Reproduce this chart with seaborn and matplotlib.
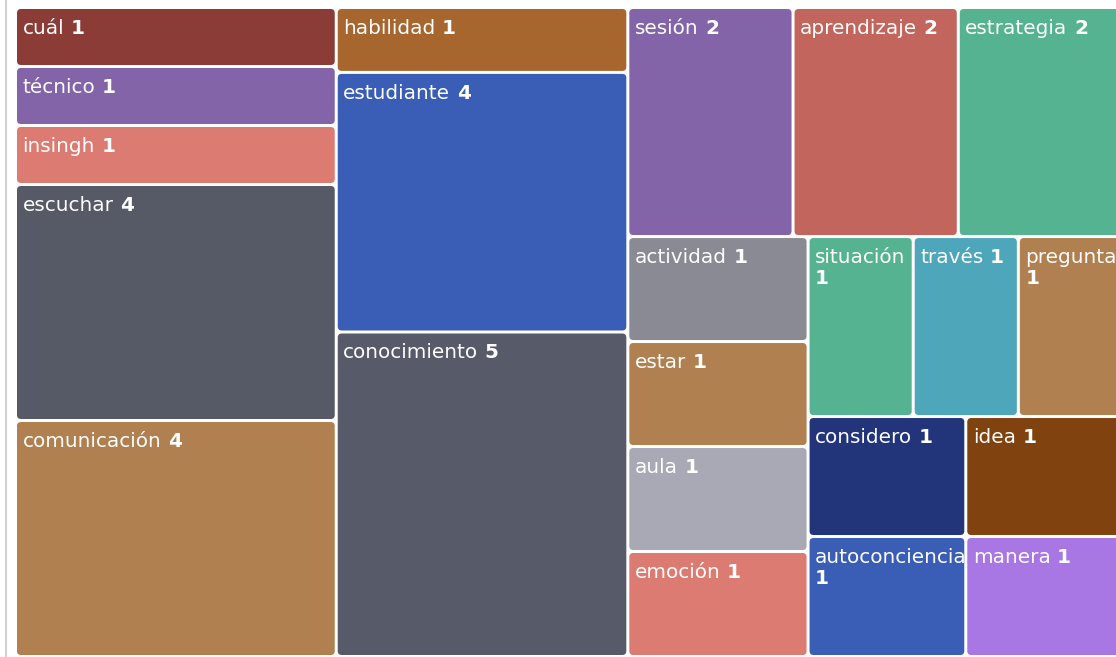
import matplotlib

matplotlib.use("Agg")
import matplotlib.pyplot as plt
import seaborn as sns
from matplotlib.patches import FancyBboxPatch

# word frequencies shown in the treemap, in drawing order
WORDS = [
    "cuál", "técnico", "insingh", "escuchar", "comunicación",
    "habilidad", "estudiante", "conocimiento",
    "sesión", "aprendizaje", "estrategia",
    "actividad", "estar", "aula", "emoción",
    "situación", "través", "pregunta",
    "considero", "autoconciencia", "idea", "manera",
]
COUNTS = [1, 1, 1, 4, 4, 1, 4, 5, 2, 2, 2, 1, 1, 1, 1, 1, 1, 1, 1, 1, 1, 1]
COLORS = [
    "#8b3c37", "#8364a8", "#dc7b72", "#565966", "#b08050",
    "#a6662e", "#3a5db5", "#575a68",
    "#8364a8", "#c2655d", "#55b391",
    "#898a93", "#b08050", "#a8a9b4", "#dc7b72",
    "#55b391", "#4ea6ba", "#b08050",
    "#22357a", "#3a5db5", "#80420f", "#a977e3",
]
# how many consecutive words go into each strip of the treemap
STRIP_SIZES = [5, 3, 3, 4, 3, 2, 1, 1]

sns.set_theme(style="white")
plt.rcParams["font.family"] = ["DejaVu Sans"]


def strip_layout(values, strips, x, y, w, h):
    """Cuts strips off the remaining area along its shorter side"""
    rects = []
    remaining = float(sum(values))
    i = 0
    for n in strips:
        chunk = values[i:i + n]
        total = float(sum(chunk))
        share = total / remaining
        if w >= h:
            sw = w * share
            cy = y
            for v in chunk:
                ch = h * v / total
                rects.append((x, cy, sw, ch))
                cy += ch
            x += sw
            w -= sw
        else:
            sh = h * share
            cx = x
            for v in chunk:
                cw = w * v / total
                rects.append((cx, y, cw, sh))
                cx += cw
            y += sh
            h -= sh
        remaining -= total
        i += n
    return rects


fig = plt.figure(figsize=(11.16, 6.57), dpi=100)
ax = fig.add_axes([0, 0, 1, 1])
ax.set_xlim(0, 1116)
ax.set_ylim(657, 0)
ax.axis("off")

# thin border at the left of the container
ax.axvline(6, color="#d2d2d2", lw=1.5)

renderer = fig.canvas.get_renderer()
palette = sns.color_palette(COLORS)
gap = 1.5
pad = 5.5
fs = 14.4
space = 6.5

rects = strip_layout(COUNTS, STRIP_SIZES, 15.5, 7.5, 1108, 649)
for (x, y, w, h), word, count, color in zip(rects, WORDS, COUNTS, palette):
    cell = FancyBboxPatch(
        (x + gap, y + gap), w - 2 * gap, h - 2 * gap,
        boxstyle="round,pad=0,rounding_size=4",
        facecolor=color, edgecolor="none",
    )
    ax.add_patch(cell)

    tx = x + gap + pad
    ty = y + gap + 25
    t1 = ax.text(tx, ty, word, color="white", fontsize=fs, va="baseline")
    t1.set_clip_path(cell)
    word_w = t1.get_window_extent(renderer).width
    t2 = ax.text(0, 0, str(count), color="white", fontsize=fs,
                 fontweight="bold", va="baseline")
    num_w = t2.get_window_extent(renderer).width
    # the count drops to a second line when the label is too wide
    if word_w + space + num_w > w - 2 * gap - 2 * pad:
        t2.set_position((tx, ty + 21))
    else:
        t2.set_position((tx + word_w + space, ty))
    t2.set_clip_path(cell)

fig.savefig("out.png", dpi=100)
plt.close(fig)
